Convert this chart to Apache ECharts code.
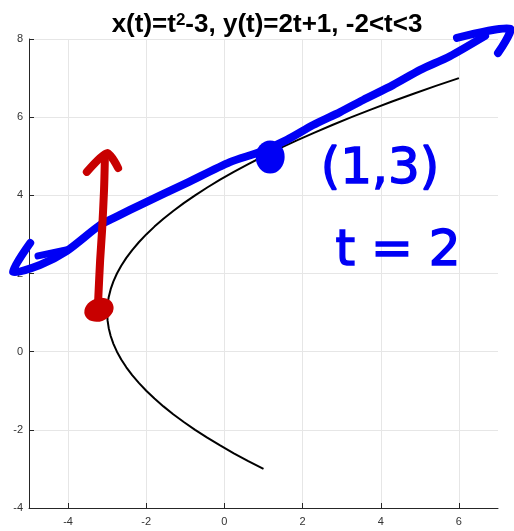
<!DOCTYPE html>
<html>
<head>
<meta charset="utf-8">
<title>x(t)=t²-3, y(t)=2t+1</title>
<script src="https://cdn.jsdelivr.net/npm/echarts@6/dist/echarts.min.js"></script>
<style>
  html, body { margin: 0; padding: 0; background: #fff; }
  #chart { width: 514px; height: 531px; }
</style>
</head>
<body>
<div id="chart"></div>
<script>
// Parametric curve x = t^2 - 3, y = 2t + 1 sampled at t = -2.0, -1.9, ..., 3.0
const curveX = [1, 0.61, 0.24, -0.11, -0.44, -0.75, -1.04, -1.31, -1.56, -1.79,
  -2, -2.19, -2.36, -2.51, -2.64, -2.75, -2.84, -2.91, -2.96, -2.99,
  -3, -2.99, -2.96, -2.91, -2.84, -2.75, -2.64, -2.51, -2.36, -2.19,
  -2, -1.79, -1.56, -1.31, -1.04, -0.75, -0.44, -0.11, 0.24, 0.61,
  1, 1.41, 1.84, 2.29, 2.76, 3.25, 3.76, 4.29, 4.84, 5.41, 6];
const curveY = [-3, -2.8, -2.6, -2.4, -2.2, -2, -1.8, -1.6, -1.4, -1.2,
  -1, -0.8, -0.6, -0.4, -0.2, 0, 0.2, 0.4, 0.6, 0.8,
  1, 1.2, 1.4, 1.6, 1.8, 2, 2.2, 2.4, 2.6, 2.8,
  3, 3.2, 3.4, 3.6, 3.8, 4, 4.2, 4.4, 4.6, 4.8,
  5, 5.2, 5.4, 5.6, 5.8, 6, 6.2, 6.4, 6.6, 6.8, 7];

// Axis ticks
const xTicks = [-4, -2, 0, 2, 4, 6];
const yTicks = [-4, -2, 0, 2, 4, 6, 8];

// Hand-drawn tangent line at t = 2 (with arrow at the lower-left end)
const tangentX = [-4.97, -5.41, -4.72, -4.03, -3.18, -2.67, -2.16, -0.96, 0.14, 0.91, 1.60, 2.27, 2.96, 3.55, 4.31, 5.01, 5.77, 6.67];
const tangentY = [2.78, 2.04, 2.22, 2.58, 3.24, 3.50, 3.75, 4.32, 4.85, 5.11, 5.42, 5.80, 6.13, 6.44, 6.82, 7.21, 7.56, 8.08];
// Arrow head at the upper-right end of the tangent line
const tangentHeadX = [5.95, 7.31, 7.00];
const tangentHeadY = [8.03, 8.26, 7.64];
// Extra pass of the pen near the lower-left arrow
const tangentTailX = [-4.77, -4.05];
const tangentTailY = [2.45, 2.60];

// Red vertical arrow rising from the vertex
const arrowX = [-3.23, -3.18, -3.13, -3.08, -3.06];
const arrowY = [1.32, 2.34, 3.11, 4.14, 4.90];
const arrowHeadX = [-3.52, -3.00, -2.72];
const arrowHeadY = [4.60, 5.08, 4.70];

// Marked points
const vertexPoint = [-3.21, 1.07];
const tangentPoint = [1.17, 4.98];

// Hand-written notes
const noteTexts = ['(1,3)', 't = 2'];
const noteX = [3.98, 4.44];
const noteY = [4.65, 2.55];

const BLUE = '#0000f5';
const RED = '#c80000';

const zip = (xs, ys) => xs.map((x, i) => [x, ys[i]]);

// A free-hand pen stroke: one polyline through all points, allowed to leave the plot area
function pen(name, xs, ys, color, width, z) {
  return {
    name: name,
    type: 'custom',
    data: zip(xs, ys),
    encode: { x: 0, y: 1 },
    clip: false,
    z: z,
    silent: true,
    renderItem: function (params, api) {
      if (params.dataIndex !== 0) return null;
      return {
        type: 'polyline',
        shape: {
          points: xs.map((x, i) => api.coord([x, ys[i]])),
          smooth: 0.25
        },
        style: {
          stroke: color,
          lineWidth: width,
          lineCap: 'round',
          lineJoin: 'round',
          fill: null
        }
      };
    }
  };
}

const chart = echarts.init(document.getElementById('chart'), null, { renderer: 'canvas' });

chart.setOption({
  animation: false,
  backgroundColor: '#ffffff',
  title: {
    text: 'x(t)=t{s|2}-3, y(t)=2t+1, -2<t<3',
    left: 262,
    textAlign: 'center',
    top: 7,
    textStyle: {
      fontFamily: 'Liberation Sans, Arial, sans-serif',
      fontSize: 26,
      fontWeight: 'bold',
      color: '#000',
      rich: {
        s: {
          fontFamily: 'Liberation Sans, Arial, sans-serif',
          fontSize: 17,
          fontWeight: 'bold',
          color: '#000',
          verticalAlign: 'top',
          padding: [0, 0, 9, 0]
        }
      }
    }
  },
  grid: { left: 29, right: 16, top: 39, bottom: 23, containLabel: false },
  xAxis: {
    type: 'value',
    min: -5,
    max: 7,
    axisLine: { show: true, onZero: false, lineStyle: { color: '#262626', width: 1 } },
    axisTick: { show: true, inside: true, length: 5, customValues: xTicks, lineStyle: { color: '#262626' } },
    axisLabel: { customValues: xTicks, margin: 8, color: '#333', fontSize: 11, fontFamily: 'Liberation Sans, Arial, sans-serif' },
    splitLine: { show: true, lineStyle: { color: '#e6e6e6', width: 1 } }
  },
  yAxis: {
    type: 'value',
    min: -4,
    max: 8,
    axisLine: { show: true, onZero: false, lineStyle: { color: '#262626', width: 1 } },
    axisTick: { show: true, inside: true, length: 5, customValues: yTicks, lineStyle: { color: '#262626' } },
    axisLabel: { customValues: yTicks, margin: 6, color: '#333', fontSize: 11, fontFamily: 'Liberation Sans, Arial, sans-serif' },
    splitLine: { show: true, lineStyle: { color: '#e6e6e6', width: 1 } }
  },
  series: [
    {
      name: 'curve',
      type: 'line',
      data: zip(curveX, curveY),
      showSymbol: false,
      symbol: 'none',
      z: 2,
      lineStyle: { color: '#000', width: 2 },
      silent: true
    },
    pen('tangent', tangentX, tangentY, BLUE, 8, 3),
    pen('tangentHead', tangentHeadX, tangentHeadY, BLUE, 8, 3),
    pen('tangentTail', tangentTailX, tangentTailY, BLUE, 7, 3),
    {
      name: 'tangentPoint',
      type: 'scatter',
      data: [tangentPoint],
      symbol: 'circle',
      symbolSize: [29, 33],
      clip: false,
      z: 4,
      itemStyle: { color: BLUE, opacity: 1 },
      silent: true
    },
    pen('arrow', arrowX, arrowY, RED, 8, 5),
    pen('arrowHead', arrowHeadX, arrowHeadY, RED, 8, 5),
    {
      name: 'vertexPoint',
      type: 'scatter',
      data: [vertexPoint],
      symbol: 'circle',
      symbolSize: [30, 23],
      symbolRotate: 20,
      clip: false,
      z: 6,
      itemStyle: { color: RED, opacity: 1 },
      silent: true
    },
    {
      name: 'notes',
      type: 'scatter',
      data: noteTexts.map((t, i) => ({ value: [noteX[i], noteY[i]], name: t })),
      symbolSize: 0,
      clip: false,
      z: 7,
      silent: true,
      itemStyle: { opacity: 1 },
      label: {
        show: true,
        position: 'inside',
        formatter: p => p.name,
        color: BLUE,
        opacity: 1,
        fontFamily: 'DejaVu Sans, sans-serif',
        fontWeight: 'normal',
        fontSize: 50,
        textBorderColor: BLUE,
        textBorderWidth: 1.5
      }
    }
  ]
});
</script>
</body>
</html>
